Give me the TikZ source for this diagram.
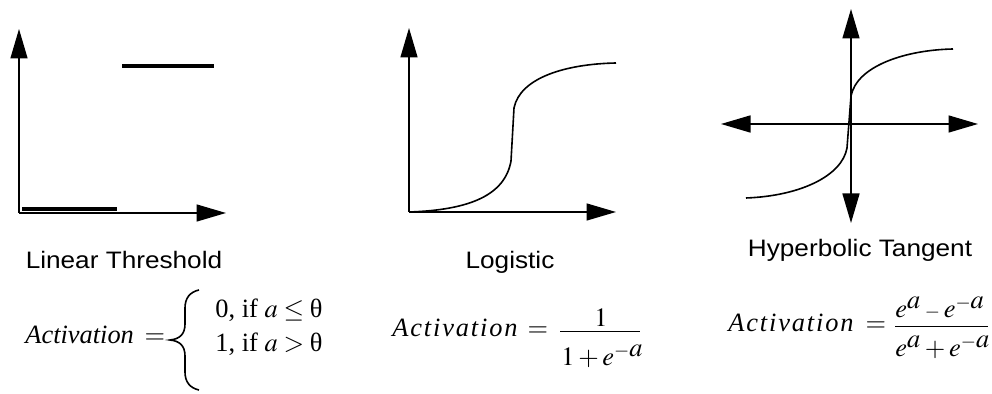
\documentclass[tikz,border=0pt]{standalone}
\usepackage{graphicx}
\usepackage{mathptmx}
\usepackage[no-math]{fontspec}
\setmainfont{Liberation Serif}
\setsansfont{Liberation Sans}
\newfontfamily\spacedserif[LetterSpace=7]{Liberation Serif}
\usetikzlibrary{arrows.meta}
\newcommand{\stretchx}[1]{\scalebox{1.1}[1]{#1}}

\begin{document}
\begin{tikzpicture}[x=0.5pt, y=-0.5pt,
  axis/.style={line width=0.75pt, -{Triangle[length=14.75pt, width=8.5pt]}},
  axisboth/.style={line width=0.75pt,
    {Triangle[length=14.75pt, width=8.5pt]}-{Triangle[length=14.75pt, width=8.5pt]}},
  stepline/.style={line width=1.6pt},
  curve/.style={line width=0.8pt},
  fracbar/.style={line width=0.55pt},
  title/.style={font=\sffamily\fontsize{11.9}{13}\selectfont, anchor=base, inner sep=0pt},
  formula/.style={font=\fontsize{13.2}{15}\selectfont, inner sep=0pt}]
  \useasboundingbox (0,0) rectangle (992,394);

  % ---- Linear Threshold: Achsen und Stufen ----
  \coordinate (o1) at (19,213);
  \coordinate (x1) at (226,213);
  \coordinate (y1) at (19,29);
  \draw[axis] (o1) -- (x1);
  \draw[axis] (o1) -- (y1);
  \draw[stepline] (22,209) -- (117,209);
  \draw[stepline] (122,66) -- (214,66);

  % ---- Logistic: Achsen und S-Kurve ----
  \coordinate (o2) at (409,212);
  \coordinate (x2) at (616,212);
  \coordinate (y2) at (409,28);
  \draw[axis] (o2) -- (x2);
  \draw[axis] (o2) -- (y2);
  \draw[curve] (o2) .. controls (470,210) and (505,195) .. (511,161)
    -- (514,108) .. controls (520,78) and (565,64) .. (616,63);

  % ---- Hyperbolic Tangent: Achsenkreuz und Kurve ----
  \coordinate (l3) at (721,124);
  \coordinate (r3) at (978,124);
  \coordinate (t3) at (851,9);
  \coordinate (b3) at (851,223);
  \draw[axisboth] (l3) -- (r3);
  \draw[axisboth] (b3) -- (t3);
  \draw[curve] (746,198) .. controls (800,196) and (842,176) .. (847,148)
    -- (851,96) .. controls (857,66) and (905,50) .. (953,49);

  % ---- Titel ----
  \node[title] (lt) at (124,269) {\stretchx{Linear Threshold}};
  \node[title] (lg) at (510,269) {\stretchx{Logistic}};
  \node[title] (ht) at (860,257) {\stretchx{Hyperbolic Tangent}};

  % ---- Formel 1 (Fallunterscheidung) ----
  \node[formula, anchor=base west] (act1) at (25,344) {\textit{Activation}};
  \node[formula, anchor=base] (eq1) at (155,344) {$=$};
  \draw[line width=0.8pt] (199,290) .. controls (190,292) and (185,298) .. (185,308)
    -- (185,324) .. controls (185,334) and (180,339) .. (170,340)
    .. controls (180,341) and (185,346) .. (185,356)
    -- (185,372) .. controls (185,382) and (190,388) .. (199,390);
  \node[formula, anchor=base west] (row1) at (215,318) {0, if $a\le\mbox{θ}$};
  \node[formula, anchor=base west] (row2) at (215,352) {1, if $a>\mbox{θ}$};

  % ---- Formel 2 (Bruch) ----
  \node[formula, anchor=base west] (act2) at (392,337) {\spacedserif\itshape Activation};
  \node[formula, anchor=base] (eq2) at (538,337) {$=$};
  \node[formula, anchor=base] (num2) at (601,326.7) {$1$};
  \node[formula, anchor=base west] (den2) at (561,365.7) {$1+e^{\textstyle{\scriptstyle-}a}$};
  \draw[fracbar] (560,331.7) -- (640,331.7);

  % ---- Formel 3 (Bruch) ----
  \node[formula, anchor=base west] (act3) at (728,332) {\spacedserif\itshape Activation};
  \node[formula, anchor=base] (eq3) at (876,332) {$=$};
  \node[formula, anchor=base west] (num3) at (895,318)
    {$e^{\textstyle a}\mathbin{\scriptstyle-}e^{\textstyle{\scriptstyle-}a}$};
  \node[formula, anchor=base west] (den3) at (895,356.7)
    {$e^{\textstyle a}+e^{\textstyle{\scriptstyle-}a}$};
  \draw[fracbar] (895,326.7) -- (988,326.7);
\end{tikzpicture}
\end{document}
